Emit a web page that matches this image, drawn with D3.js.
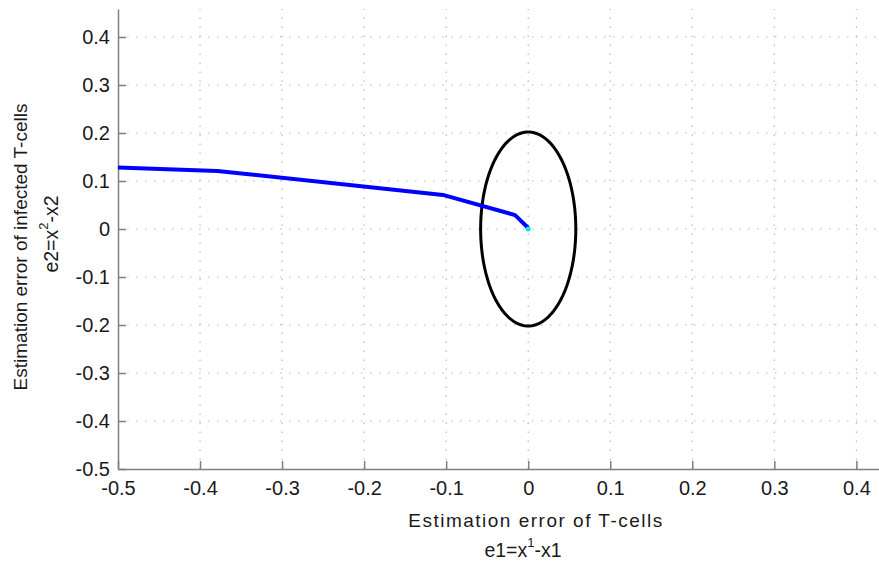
<!DOCTYPE html>
<html>
<head>
<meta charset="utf-8">
<script src="https://cdn.jsdelivr.net/npm/d3@7"></script>
<style>
  html, body { margin: 0; padding: 0; background: #fff; }
  svg { display: block; font-family: Arial, "Liberation Sans", sans-serif; }
</style>
</head>
<body>
<svg id="chart" width="879" height="562"></svg>
<script>
// Estimation-error trajectory (e1, e2) converging to the origin
const e1Values = [-0.5, -0.379, -0.104, -0.016, 0.0];
const e2Values = [0.128, 0.121, 0.071, 0.029, 0.002];
const endPoint = [0, 0];
// Ellipse bounding region: centre and semi-axes in data units
const ellipseCenter = [0, 0];
const ellipseRadii = [0.058, 0.202];
const xTicks = [-0.5, -0.4, -0.3, -0.2, -0.1, 0, 0.1, 0.2, 0.3, 0.4];
const yTicks = [-0.5, -0.4, -0.3, -0.2, -0.1, 0, 0.1, 0.2, 0.3, 0.4];
const xTitle = "Estimation error of T-cells";
const yTitle = "Estimation error of infected T-cells";

const svg = d3.select("#chart");
const plotLeft = 118, plotBottom = 469, plotTop = 9, plotRight = 881;

const x = d3.scaleLinear().domain([-0.5, 0.43]).range([plotLeft, plotRight]);
const y = d3.scaleLinear().domain([-0.5, 0.4583]).range([plotBottom, plotTop]);

// plain hyphen for negatives, "0" for zero
const fmt = d => d === 0 ? "0" : d3.format(".1f")(d).replace("\u2212", "-");

// dotted grid
const grid = svg.append("g").attr("stroke", "#b8b8b8").attr("stroke-width", 1.2)
  .attr("stroke-dasharray", "1.5,7.5");
grid.selectAll("line.v").data(xTicks.filter(d => d > -0.5)).join("line")
  .attr("x1", d => x(d)).attr("x2", d => x(d)).attr("y1", plotBottom).attr("y2", plotTop);
grid.selectAll("line.h").data(yTicks.filter(d => d > -0.5)).join("line")
  .attr("y1", d => y(d)).attr("y2", d => y(d)).attr("x1", plotLeft).attr("x2", plotRight);

// axes with inward ticks
const xAxis = d3.axisBottom(x).tickValues(xTicks).tickFormat(fmt).tickSize(-8).tickSizeOuter(0);
const yAxis = d3.axisLeft(y).tickValues(yTicks).tickFormat(fmt).tickSize(-8).tickSizeOuter(0);

const gx = svg.append("g").attr("transform", `translate(0,${plotBottom})`).call(xAxis);
const gy = svg.append("g").attr("transform", `translate(${plotLeft},0)`).call(yAxis);
[gx, gy].forEach(g => {
  g.attr("font-size", 20).attr("font-family", "Arial, 'Liberation Sans', sans-serif");
  g.select(".domain").attr("stroke", "#808080").attr("stroke-width", 1.5);
  g.selectAll(".tick line").attr("stroke", "#808080").attr("stroke-width", 1.5);
  g.selectAll(".tick text").attr("fill", "#1a1a1a");
});
gx.selectAll(".tick text").attr("dy", "0.71em").attr("y", 12);
gy.selectAll(".tick text").attr("x", -8);

// ellipse
const ell = d3.range(0, 361, 2).map(a => {
  const t = a * Math.PI / 180;
  return [ellipseCenter[0] + ellipseRadii[0] * Math.cos(t), ellipseCenter[1] + ellipseRadii[1] * Math.sin(t)];
});
svg.append("path").datum(ell)
  .attr("d", d3.line().x(d => x(d[0])).y(d => y(d[1])))
  .attr("fill", "none").attr("stroke", "#000").attr("stroke-width", 3);

// trajectory
const traj = e1Values.map((v, i) => [v, e2Values[i]]);
svg.append("path").datum(traj)
  .attr("d", d3.line().x(d => x(d[0])).y(d => y(d[1])))
  .attr("fill", "none").attr("stroke", "#0000ff").attr("stroke-width", 4)
  .attr("stroke-linejoin", "round");
svg.append("circle").attr("cx", x(endPoint[0])).attr("cy", y(endPoint[1])).attr("r", 2.5)
  .attr("fill", "#00e5ff");

// axis titles
svg.append("text").attr("text-anchor", "middle").attr("font-size", 19).attr("fill", "#1a1a1a")
  .attr("letter-spacing", 1.5).attr("x", 536).attr("y", 527).text(xTitle);
const xt2 = svg.append("text").attr("text-anchor", "middle").attr("font-size", 19.5).attr("fill", "#1a1a1a")
  .attr("x", 523).attr("y", 557);
xt2.append("tspan").text("e1=x");
xt2.append("tspan").attr("font-size", 13).attr("dy", -10).text("1");
xt2.append("tspan").attr("dy", 10).text("-x1");

svg.append("text").attr("text-anchor", "middle").attr("font-size", 19).attr("fill", "#1a1a1a")
  .attr("transform", "translate(27,247) rotate(-90)").text(yTitle);
const yt2 = svg.append("text").attr("text-anchor", "middle").attr("font-size", 19.5).attr("fill", "#1a1a1a")
  .attr("transform", "translate(58,234) rotate(-90)");
yt2.append("tspan").text("e2=x");
yt2.append("tspan").attr("font-size", 13).attr("dy", -10).text("2");
yt2.append("tspan").attr("dy", 10).text("-x2");
</script>
</body>
</html>
